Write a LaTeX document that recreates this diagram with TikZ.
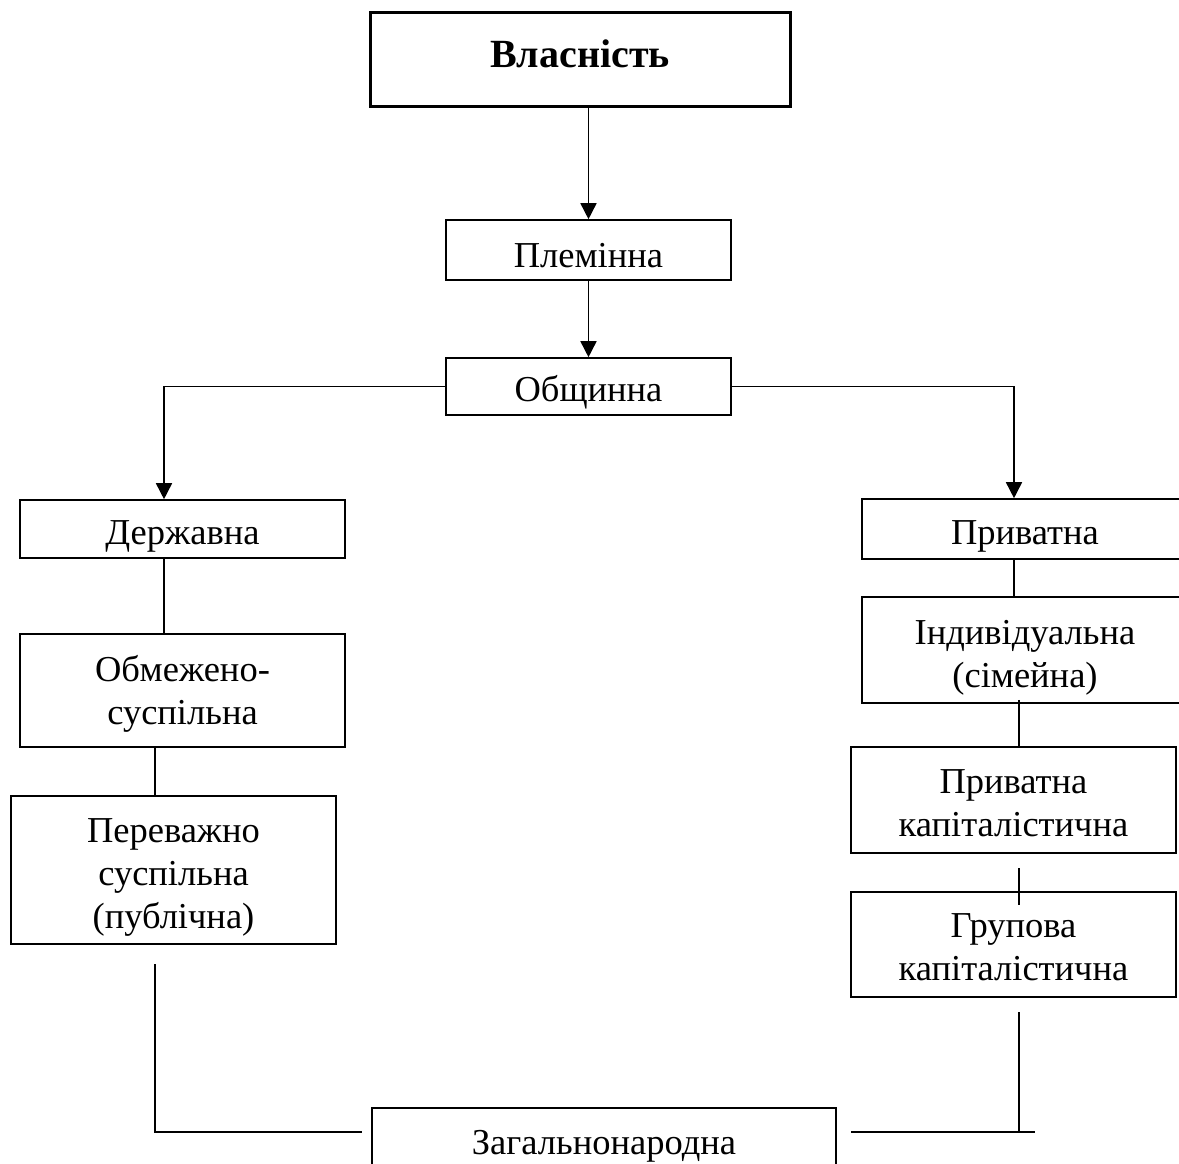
\documentclass[tikz,border=0pt]{standalone}
\usepackage{fontspec}
\setmainfont{Liberation Serif}
\usetikzlibrary{arrows.meta}
\begin{document}
\begin{tikzpicture}[x=1pt,y=-1pt,
  frame/.style={draw,line width=1.6pt,inner sep=0pt},
  txt/.style={align=center,inner sep=0pt,font=\fontsize{36.5}{43}\selectfont},
  conn/.style={line width=1.6pt},
  arr/.style={line width=1.6pt,-{Triangle[length=16pt,width=16pt]}}]
\useasboundingbox (0,0) rectangle (1179,1164);
\fill[white] (0,0) rectangle (1179,1164);
% boxes
\node[frame,line width=3pt,minimum width=420pt,minimum height=94pt] (vlas) at (580,60) {};
\node[txt,text height=26pt,text depth=14pt,font=\fontsize{40}{46}\selectfont\bfseries] (vlasT) at (580,61) {Власність};
\node[frame,minimum width=285pt,minimum height=60pt] (plem) at (588.5,250) {};
\node[txt] (plemT) at (588.5,256) {Племінна};
\node[frame,minimum width=285pt,minimum height=57pt] (obsh) at (588.5,386.5) {};
\node[txt] (obshT) at (588.5,392.5) {Общинна};
\node[frame,minimum width=325pt,minimum height=58pt] (derzh) at (182.5,529) {};
\node[txt] (derzhT) at (182.5,536) {Державна};
\node[frame,minimum width=326pt,minimum height=60pt] (priv) at (1025,529) {};
\node[txt] (privT) at (1025,536) {Приватна};
\node[frame,minimum width=325pt,minimum height=113pt] (obm) at (182.5,690.5) {};
\node[txt] (obmT) at (182.5,694) {Обмежено-\\суспільна};
\node[frame,minimum width=325pt,minimum height=148pt] (perev) at (173.5,870) {};
\node[txt] (perevT) at (173.5,877) {Переважно\\суспільна\\(публічна)};
\node[frame,minimum width=326pt,minimum height=106pt] (indiv) at (1025,650) {};
\node[txt] (indivT) at (1025,657.5) {Індивідуальна\\(сімейна)};
\node[frame,minimum width=325pt,minimum height=106pt] (privkap) at (1013.5,800) {};
\node[txt] (privkapT) at (1013.5,803.5) {Приватна\\капіталістична};
\node[frame,minimum width=325pt,minimum height=105pt] (grup) at (1013.5,944.5) {};
\node[txt] (grupT) at (1013.5,947.5) {Групова\\капіталістична};
\node[frame,minimum width=464pt,minimum height=76pt] (zag) at (604,1146) {};
\node[txt] (zagT) at (604,1146) {Загальнонародна};
% helper coordinates
\coordinate (xl) at (164,0);
\coordinate (xr) at (1014,0);
\coordinate (xl2) at (155,0);
\coordinate (xr2) at (1019,0);
\coordinate (pb) at (155,964);
\coordinate (lc) at (155,1132);
\coordinate (le) at (362,1132);
\coordinate (gt) at (1019,1012);
\coordinate (rc) at (1019,1132);
\coordinate (rs) at (851,1132);
\coordinate (re) at (1035,1132);
\coordinate (pk1) at (1019,868);
\coordinate (pk2) at (1019,905);
% connectors
\draw[arr] (plem.north |- vlas.south) -- (plem.north);
\draw[arr] (plem.south) -- (obsh.north);
\draw[arr] (obsh.west) -| (xl |- derzh.north);
\draw[arr] (obsh.east) -| (xr |- priv.north);
\draw[conn] (xl |- derzh.south) -- (xl |- obm.north);
\draw[conn] (xl2 |- obm.south) -- (xl2 |- perev.north);
\draw[conn] (pb) -- (lc) -- (le);
\draw[conn] (xr |- priv.south) -- (xr |- indiv.north);
\draw[conn] ([yshift=4pt]xr2 |- indiv.south) -- (xr2 |- privkap.north);
\draw[conn] (pk1) -- (pk2);
\draw[conn] (gt) -- (rc);
\draw[conn] (rs) -- (re);
\end{tikzpicture}
\end{document}
